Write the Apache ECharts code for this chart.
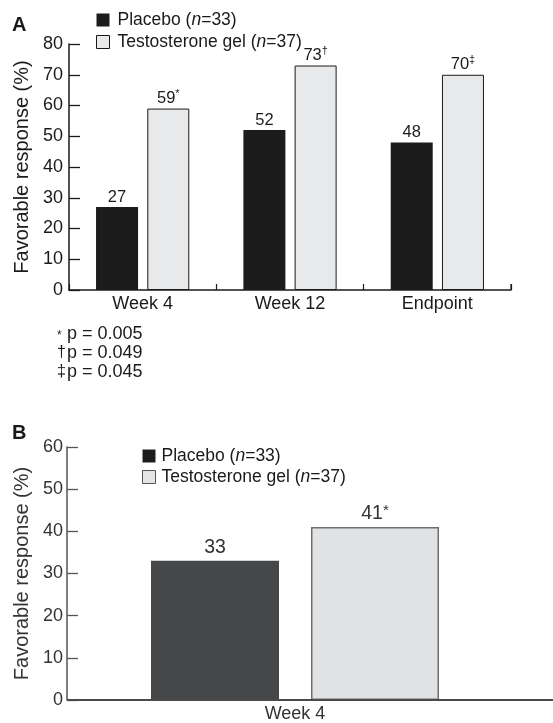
<!DOCTYPE html>
<html>
<head>
<meta charset="utf-8">
<script src="https://cdn.jsdelivr.net/npm/echarts@6/dist/echarts.min.js"></script>
<style>
html,body{margin:0;padding:0;background:#fff;}
#chart{width:553px;height:723px;}
</style>
</head>
<body>
<div id="chart"></div>
<script>
// ---- data ----
const categoriesA = ['Week 4', 'Week 12', 'Endpoint'];
const placeboA = [27, 52, 48];
const testoA = [59, 73, 70];
const marksA = ['*', '\u2020', '\u2021'];

const categoriesB = ['Week 4'];
const placeboB = [33];
const testoB = [41];
const marksB = ['*'];

const seriesNames = ['Placebo', 'Testosterone gel'];
const groupN = [33, 37];

const yTicksA = [0, 80, 10];
const yTicksB = [0, 60, 10];

const footSymbols = ['*', '\u2020', '\u2021'];
const footTexts = ['p = 0.005', 'p = 0.049', 'p = 0.045'];

// ---- chart ----
const FONT = '"Liberation Sans", Arial, Helvetica, sans-serif';
const chart = echarts.init(document.getElementById('chart'), null, {renderer: 'canvas'});

function legendFmt(name) {
  const i = seriesNames.indexOf(name);
  return name + ' ({i|n}=' + groupN[i] + ')';
}
const legendRich = {i: {fontStyle: 'italic', fontSize: 17.5, fontFamily: FONT, color: '#1a1a1a'}};

const supLabel = (marks) => function (p) {
  return '{v|' + p.value + '}{s|' + marks[p.dataIndex] + '}';
};

const option = {
  animation: false,
  backgroundColor: '#ffffff',
  textStyle: {fontFamily: FONT},
  grid: [
    {left: 69, top: 44, width: 442, height: 246, containLabel: false},
    {left: 67, top: 447, width: 456, height: 255, containLabel: false}
  ],
  legend: [
    {
      left: 96, top: 11, orient: 'vertical', itemWidth: 13, itemHeight: 13, itemGap: 4, padding: 0,
      icon: 'rect',
      data: [
        {name: seriesNames[0], itemStyle: {color: '#1c1c1c', borderWidth: 0}},
        {name: seriesNames[1], itemStyle: {color: '#e8e9eb', borderColor: '#1a1a1a', borderWidth: 1}}
      ],
      formatter: legendFmt,
      textStyle: {fontSize: 17.5, color: '#1a1a1a', fontFamily: FONT, rich: legendRich, padding: [0, 0, 0, 3]},
      selectedMode: false
    },
    {
      left: 142, top: 447, orient: 'vertical', itemWidth: 13, itemHeight: 13, itemGap: 3, padding: 0,
      icon: 'rect',
      data: [
        {name: seriesNames[0], itemStyle: {color: '#1c1c1c', borderWidth: 0}},
        {name: seriesNames[1], itemStyle: {color: '#e3e4e6', borderColor: '#555', borderWidth: 1}}
      ],
      formatter: legendFmt,
      textStyle: {fontSize: 17.5, color: '#1a1a1a', fontFamily: FONT, rich: legendRich, padding: [0, 0, 0, 1]},
      selectedMode: false
    }
  ],
  xAxis: [
    {
      gridIndex: 0, type: 'category', data: categoriesA,
      axisLine: {lineStyle: {color: '#1a1a1a', width: 1.5}},
      axisTick: {show: true, inside: true, length: 6, lineStyle: {color: '#1a1a1a', width: 1.2}},
      axisLabel: {fontSize: 18, color: '#1a1a1a', margin: 5, fontFamily: FONT}
    },
    {
      gridIndex: 1, type: 'category', data: categoriesB,
      axisLine: {show: false},
      axisTick: {show: false},
      axisLabel: {fontSize: 18, color: '#333', margin: 5, fontFamily: FONT}
    }
  ],
  yAxis: [
    {
      gridIndex: 0, type: 'value', min: yTicksA[0], max: yTicksA[1], interval: yTicksA[2],
      name: 'Favorable response (%)', nameLocation: 'middle', nameRotate: 90, nameGap: 35,
      nameTextStyle: {fontSize: 20, color: '#1a1a1a', fontFamily: FONT},
      axisLine: {show: true, lineStyle: {color: '#1a1a1a', width: 1.5}},
      axisTick: {show: true, inside: true, length: 11, lineStyle: {color: '#1a1a1a', width: 1.3}},
      axisLabel: {fontSize: 18, color: '#1a1a1a', margin: 6, fontFamily: FONT},
      splitLine: {show: false}
    },
    {
      gridIndex: 1, type: 'value', min: yTicksB[0], max: yTicksB[1], interval: yTicksB[2],
      name: 'Favorable response (%)', nameLocation: 'middle', nameRotate: 90, nameGap: 33,
      nameTextStyle: {fontSize: 20, color: '#333', fontFamily: FONT},
      axisLine: {show: true, lineStyle: {color: '#555', width: 1.5}},
      axisTick: {show: true, inside: true, length: 11, lineStyle: {color: '#555', width: 1.3}},
      axisLabel: {fontSize: 18, color: '#333', margin: 4, fontFamily: FONT},
      splitLine: {show: false}
    }
  ],
  series: [
    {
      type: 'bar', name: seriesNames[0], xAxisIndex: 0, yAxisIndex: 0, data: placeboA,
      barWidth: 42, barGap: '22%',
      itemStyle: {color: '#1c1c1c'},
      label: {show: true, position: 'top', distance: 1, fontSize: 16.5, color: '#1a1a1a', fontFamily: FONT}
    },
    {
      type: 'bar', name: seriesNames[1], xAxisIndex: 0, yAxisIndex: 0, data: testoA,
      barWidth: 42, barGap: '22%',
      itemStyle: {color: '#e8e9eb', borderColor: '#1a1a1a', borderWidth: 1},
      label: {
        show: true, position: 'top', distance: 1, fontFamily: FONT,
        formatter: supLabel(marksA),
        rich: {
          v: {fontSize: 16.5, color: '#1a1a1a', fontFamily: FONT},
          s: {fontSize: 11, color: '#1a1a1a', fontFamily: FONT, verticalAlign: 'top', padding: [0, 0, 8, 0]}
        }
      }
    },
    {
      type: 'bar', name: seriesNames[0], xAxisIndex: 1, yAxisIndex: 1, data: placeboB,
      barWidth: 128, barGap: '25%',
      itemStyle: {color: '#464749'},
      label: {show: true, position: 'top', distance: 3, fontSize: 19.5, color: '#333', fontFamily: FONT}
    },
    {
      type: 'bar', name: seriesNames[1], xAxisIndex: 1, yAxisIndex: 1, data: testoB,
      barWidth: 128, barGap: '25%',
      itemStyle: {color: '#e1e2e4', borderColor: '#6e6e6e', borderWidth: 1.5},
      label: {
        show: true, position: 'top', distance: 3, fontFamily: FONT,
        formatter: supLabel(marksB),
        rich: {
          v: {fontSize: 19.5, color: '#333', fontFamily: FONT},
          s: {fontSize: 15, color: '#333', fontFamily: FONT, verticalAlign: 'top', padding: [0, 0, 6, 0]}
        }
      }
    }
  ],
  graphic: [
    {type: 'text', left: 12, top: 15, style: {text: 'A', font: 'bold 20px ' + FONT, fill: '#1a1a1a'}},
    {type: 'text', left: 12, top: 423, style: {text: 'B', font: 'bold 20px ' + FONT, fill: '#1a1a1a'}},
    {type: 'line', shape: {x1: 511, y1: 290, x2: 511, y2: 284}, style: {stroke: '#1a1a1a', lineWidth: 1.2}}
  ].concat(footSymbols.map((s, i) => ({
    type: 'text', left: 57, top: (i === 0 ? 330 : 326) + i * 19,
    style: {
      text: s,
      font: (i === 0 ? '12px ' : '16px ') + FONT, fill: '#1a1a1a'
    }
  }))).concat(footTexts.map((t, i) => ({
    type: 'text', left: 67, top: 325 + i * 19,
    style: {text: t, font: '18px ' + FONT, fill: '#1a1a1a'}
  })))
};
chart.setOption(option);

// panel B baseline: full-width axis line at the pixel of value 0 on the B value axis
const yZeroB = chart.convertToPixel({yAxisIndex: 1}, 0);
const xStartB = chart.convertToPixel({gridIndex: 1}, [0, 0])[0];
option.graphic.push({
  type: 'line', z: 10,
  shape: {x1: 67, y1: yZeroB, x2: 553, y2: yZeroB},
  style: {stroke: '#4a4a4a', lineWidth: 2}
});
chart.setOption({graphic: option.graphic});
</script>
</body>
</html>
